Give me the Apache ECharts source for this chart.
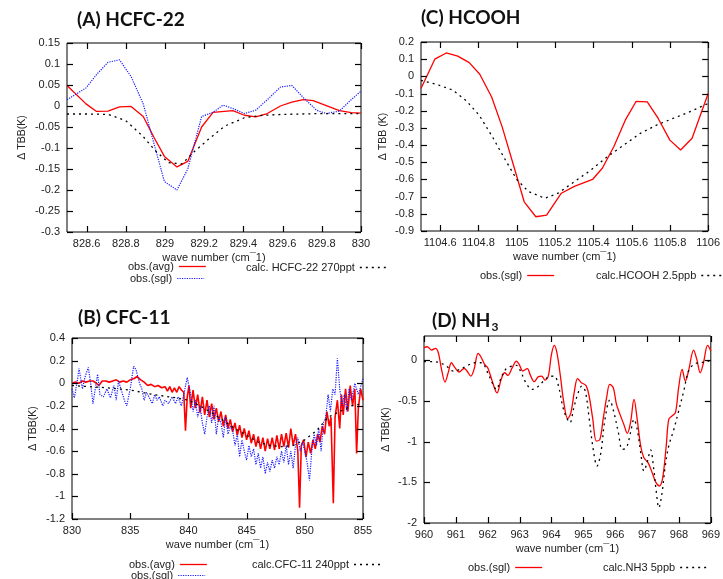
<!DOCTYPE html>
<html>
<head>
<meta charset="utf-8">
<script src="https://cdn.jsdelivr.net/npm/echarts@6/dist/echarts.min.js"></script>
<style>
  html, body { margin: 0; padding: 0; background: #fff; }
  #chart { width: 723px; height: 579px; }
</style>
</head>
<body>
<div id="chart"></div>
<script>
'use strict';

// (A) HCFC-22
const hcfcAvg = [[828.5,0.049],[828.597,0.005],[828.651,-0.013],[828.709,-0.012],[828.768,-0.002],[828.827,-0.001],[828.889,-0.025],[828.944,-0.075],[828.997,-0.12],[829.061,-0.145],[829.116,-0.132],[829.187,-0.05],[829.245,-0.015],[829.346,-0.011],[829.405,-0.022],[829.463,-0.026],[829.522,-0.018],[829.589,0.0],[829.647,0.009],[829.706,0.015],[829.756,0.013],[829.823,0.001],[829.89,-0.011],[829.95,-0.016],[830,-0.017]];
const hcfcSgl = [[828.5,0.015],[828.597,0.043],[828.651,0.075],[828.709,0.104],[828.768,0.11],[828.827,0.07],[828.889,0.005],[828.944,-0.09],[828.997,-0.18],[829.061,-0.2],[829.116,-0.15],[829.187,-0.025],[829.245,-0.015],[829.296,0.002],[829.346,-0.006],[829.405,-0.018],[829.463,-0.01],[829.522,0.015],[829.589,0.045],[829.647,0.049],[829.706,0.02],[829.773,-0.01],[829.823,-0.018],[829.89,-0.012],[829.95,0.015],[830,0.035]];
const hcfcCalc = [[828.5,-0.019],[828.6,-0.019],[828.71,-0.02],[828.8,-0.035],[828.885,-0.071],[828.952,-0.107],[829.019,-0.135],[829.086,-0.138],[829.153,-0.107],[829.22,-0.08],[829.304,-0.048],[829.405,-0.028],[829.505,-0.022],[829.6,-0.02],[829.8,-0.018],[830,-0.018]];

// (B) CFC-11
const cfcAvg = [[830.0,0.00],[830.3,0.01],[830.6,0.00],[830.9,0.02],[831.2,0.01],[831.5,0.02],[831.8,0.02],[832.1,0.00],[832.3,-0.02],[832.6,0.02],[832.9,0.02],[833.2,0.01],[833.5,0.02],[833.8,0.03],[834.1,0.01],[834.4,0.02],[834.7,0.01],[835.0,0.03],[835.3,0.04],[835.6,0.06],[835.9,0.03],[836.2,0.01],[836.5,-0.02],[836.8,-0.01],[837.1,-0.03],[837.4,-0.02],[837.7,-0.04],[838.0,-0.03],[838.2,-0.07],[838.4,-0.03],[838.6,-0.08],[838.8,-0.04],[839.0,-0.08],[839.2,-0.03],[839.4,-0.06],[839.6,-0.08],[839.75,-0.42],[839.9,-0.12],[840.05,-0.02],[840.2,-0.22],[840.4,-0.06],[840.6,-0.22],[840.8,-0.10],[841.0,-0.26],[841.2,-0.12],[841.4,-0.28],[841.6,-0.15],[841.8,-0.30],[842.0,-0.18],[842.2,-0.32],[842.4,-0.22],[842.6,-0.34],[842.8,-0.25],[843.0,-0.38],[843.2,-0.28],[843.4,-0.40],[843.6,-0.32],[843.8,-0.43],[844.0,-0.35],[844.2,-0.46],[844.4,-0.37],[844.6,-0.48],[844.8,-0.40],[845.0,-0.50],[845.2,-0.42],[845.4,-0.53],[845.6,-0.45],[845.8,-0.56],[846.0,-0.47],[846.2,-0.58],[846.4,-0.48],[846.6,-0.60],[846.8,-0.49],[847.0,-0.58],[847.2,-0.48],[847.4,-0.59],[847.6,-0.46],[847.8,-0.58],[848.0,-0.45],[848.2,-0.56],[848.4,-0.44],[848.6,-0.57],[848.8,-0.40],[849.0,-0.55],[849.2,-0.45],[849.4,-0.60],[849.55,-1.10],[849.7,-0.55],[849.9,-0.50],[850.1,-0.65],[850.3,-0.52],[850.5,-0.62],[850.7,-0.50],[850.9,-0.58],[851.1,-0.45],[851.3,-0.52],[851.5,-0.38],[851.7,-0.45],[851.9,-0.25],[852.1,-0.38],[852.25,-0.30],[852.45,-1.06],[852.6,-0.30],[852.8,-0.15],[853.0,-0.40],[853.15,-0.10],[853.3,-0.28],[853.5,-0.05],[853.7,-0.25],[853.9,-0.02],[854.1,-0.20],[854.3,-0.05],[854.45,-0.62],[854.6,-0.22],[854.8,-0.05],[855.0,-0.15]];
const cfcSgl = [[830.0,-0.05],[830.2,-0.13],[830.5,0.05],[830.6,0.13],[830.9,-0.05],[831.1,0.05],[831.4,0.14],[831.6,0.0],[831.8,-0.18],[832.0,-0.05],[832.2,0.08],[832.4,-0.1],[832.7,-0.12],[833.0,-0.05],[833.3,-0.13],[833.6,-0.02],[833.8,-0.15],[834.0,0.02],[834.2,-0.05],[834.5,-0.15],[834.7,-0.2],[835.0,-0.05],[835.3,0.15],[835.5,0.12],[835.8,0.0],[836.0,-0.05],[836.2,-0.15],[836.4,-0.08],[836.6,-0.12],[836.9,-0.18],[837.1,-0.1],[837.3,-0.15],[837.5,-0.12],[837.8,-0.2],[838.0,-0.15],[838.3,-0.18],[838.6,-0.12],[838.9,-0.18],[839.1,-0.12],[839.4,-0.2],[839.7,-0.05],[839.9,0.05],[840.0,0.06],[840.2,-0.1],[840.4,-0.25],[840.6,-0.15],[840.8,-0.3],[841.0,-0.2],[841.2,-0.35],[841.4,-0.45],[841.6,-0.3],[841.8,-0.2],[842.0,-0.35],[842.2,-0.2],[842.4,-0.45],[842.6,-0.3],[842.8,-0.35],[843.0,-0.48],[843.2,-0.3],[843.4,-0.45],[843.6,-0.38],[843.8,-0.42],[844.0,-0.55],[844.2,-0.45],[844.4,-0.65],[844.6,-0.5],[844.8,-0.6],[845.0,-0.68],[845.2,-0.55],[845.4,-0.65],[845.6,-0.58],[845.8,-0.72],[846.0,-0.62],[846.2,-0.75],[846.4,-0.65],[846.6,-0.8],[846.8,-0.7],[847.0,-0.78],[847.2,-0.68],[847.4,-0.75],[847.6,-0.65],[847.8,-0.72],[848.0,-0.6],[848.2,-0.7],[848.4,-0.55],[848.6,-0.72],[848.8,-0.6],[849.0,-0.75],[849.2,-0.55],[849.4,-0.48],[849.6,-0.6],[849.8,-0.52],[850.0,-0.6],[850.2,-0.7],[850.4,-0.86],[850.6,-0.6],[850.8,-0.45],[851.0,-0.55],[851.2,-0.4],[851.4,-0.6],[851.6,-0.35],[851.8,-0.3],[852.0,-0.1],[852.2,-0.25],[852.4,-0.05],[852.6,-0.1],[852.8,0.22],[853.0,-0.05],[853.2,-0.2],[853.4,-0.1],[853.6,-0.25],[853.8,-0.05],[854.0,-0.15],[854.3,0.0],[854.6,-0.1],[855.0,0.04]];
const cfcCalc = [[830,-0.02],[833,-0.04],[835,-0.06],[837,-0.1],[839,-0.13],[840,-0.15],[841,-0.2],[842,-0.26],[843,-0.33],[844,-0.4],[845,-0.46],[846,-0.52],[847,-0.55],[848,-0.56],[849,-0.55],[850,-0.5],[851,-0.42],[852,-0.3],[853,-0.25],[854,-0.2],[855,-0.18]];

// (C) HCOOH
const hcoohObs = [[1104.5,-0.071],[1104.572,0.10],[1104.632,0.136],[1104.692,0.118],[1104.752,0.08],[1104.807,0.012],[1104.869,-0.12],[1104.924,-0.294],[1104.984,-0.52],[1105.039,-0.73],[1105.1,-0.817],[1105.156,-0.807],[1105.233,-0.68],[1105.301,-0.64],[1105.396,-0.6],[1105.447,-0.535],[1105.507,-0.41],[1105.567,-0.255],[1105.624,-0.145],[1105.682,-0.149],[1105.739,-0.245],[1105.8,-0.371],[1105.856,-0.429],[1105.916,-0.36],[1106,-0.1]];
const hcoohCalc = [[1104.5,-0.023],[1104.58,-0.046],[1104.666,-0.08],[1104.735,-0.14],[1104.804,-0.226],[1104.872,-0.35],[1104.941,-0.487],[1105.0,-0.6],[1105.061,-0.67],[1105.147,-0.71],[1105.216,-0.68],[1105.301,-0.613],[1105.387,-0.546],[1105.473,-0.468],[1105.559,-0.4],[1105.645,-0.332],[1105.73,-0.284],[1105.816,-0.245],[1105.902,-0.207],[1106,-0.158]];

// (D) NH3
const nh3Obs = [[960.0,0.156],[960.1,0.168],[960.24,0.127],[960.36,0.148],[960.45,0.094],[960.55,-0.11],[960.66,-0.266],[960.76,-0.15],[960.86,-0.029],[960.97,-0.09],[961.1,-0.143],[961.26,-0.098],[961.35,-0.131],[961.47,-0.193],[961.57,-0.11],[961.7,0.086],[961.8,0.033],[961.9,-0.049],[962.0,-0.09],[962.14,-0.254],[962.29,-0.4],[962.42,-0.236],[962.53,-0.152],[962.63,-0.184],[962.77,-0.09],[962.9,-0.008],[963.0,-0.061],[963.1,-0.131],[963.24,-0.102],[963.34,-0.184],[963.46,-0.262],[963.59,-0.2],[963.69,-0.193],[963.8,-0.242],[963.9,-0.193],[964.0,0.074],[964.09,0.184],[964.17,0.094],[964.28,-0.193],[964.38,-0.5],[964.51,-0.717],[964.61,-0.643],[964.72,-0.377],[964.82,-0.225],[964.94,-0.275],[965.08,-0.307],[965.18,-0.438],[965.29,-0.705],[965.41,-0.992],[965.52,-0.971],[965.62,-0.725],[965.73,-0.459],[965.83,-0.295],[965.94,-0.336],[966.04,-0.541],[966.15,-0.664],[966.27,-0.787],[966.38,-0.898],[966.48,-0.766],[966.59,-0.479],[966.69,-0.725],[966.8,-1.053],[966.9,-1.197],[967.03,-1.258],[967.16,-1.381],[967.28,-1.504],[967.39,-1.545],[967.49,-1.443],[967.6,-1.053],[967.68,-0.725],[967.78,-0.684],[967.89,-0.643],[967.99,-0.336],[968.1,-0.111],[968.2,-0.254],[968.3,-0.131],[968.46,0.127],[968.56,0.012],[968.67,-0.152],[968.77,-0.029],[968.9,0.184],[969.0,0.115]];
const nh3Calc = [[960.0,-0.016],[960.29,-0.016],[960.5,-0.029],[960.7,-0.07],[960.92,-0.131],[961.12,-0.111],[961.33,-0.07],[961.59,-0.029],[961.8,-0.029],[962.0,-0.152],[962.14,-0.275],[962.27,-0.357],[962.42,-0.213],[962.56,-0.111],[962.7,-0.078],[962.9,-0.061],[963.05,-0.152],[963.2,-0.275],[963.39,-0.357],[963.57,-0.324],[963.75,-0.254],[963.93,-0.2],[964.09,-0.193],[964.22,-0.316],[964.35,-0.561],[964.45,-0.684],[964.58,-0.766],[964.69,-0.602],[964.82,-0.418],[964.95,-0.316],[965.06,-0.377],[965.18,-0.705],[965.31,-1.094],[965.43,-1.299],[965.55,-1.135],[965.67,-0.746],[965.83,-0.488],[965.96,-0.643],[966.1,-0.889],[966.22,-1.094],[966.35,-1.074],[966.48,-0.889],[966.59,-0.725],[966.69,-0.848],[966.8,-1.135],[966.9,-1.36],[967.0,-1.258],[967.11,-1.102],[967.21,-1.34],[967.28,-1.586],[967.37,-1.811],[967.47,-1.627],[967.57,-1.299],[967.68,-1.053],[967.84,-0.848],[967.99,-0.623],[968.15,-0.377],[968.3,-0.131],[968.46,-0.049],[968.62,-0.029],[968.82,-0.02],[969.0,0.004]];

// tick labels
const ticksAx = [828.6, 828.8, 829, 829.2, 829.4, 829.6, 829.8, 830];
const ticksAy = [-0.3, -0.25, -0.2, -0.15, -0.1, -0.05, 0, 0.05, 0.1, 0.15];
const ticksBx = [830, 835, 840, 845, 850, 855];
const ticksBy = [-1.2, -1, -0.8, -0.6, -0.4, -0.2, 0, 0.2, 0.4];
const ticksCx = [1104.6, 1104.8, 1105, 1105.2, 1105.4, 1105.6, 1105.8, 1106];
const ticksCy = [-0.9, -0.8, -0.7, -0.6, -0.5, -0.4, -0.3, -0.2, -0.1, 0, 0.1, 0.2];
const ticksDx = [960, 961, 962, 963, 964, 965, 966, 967, 968, 969];
const ticksDy = [-2, -1.5, -1, -0.5, 0];

const RED = '#ff0000', BLUE = '#1a1aff', BLACK = '#000';
const FONT = 'Liberation Sans';
const XNAME = 'wave number (cm\u00AF1)';
const TICK_LEN = 6;

// panel layout: grid box, axis ranges and names
const panels = [
    { grid: { left: 67, top: 43, width: 294, height: 189 }, x: [828.5, 830, ticksAx], y: [-0.3, 0.15, ticksAy], yName: '\u0394 TBB(K)', yGap: 39 },
    { grid: { left: 72, top: 338, width: 291, height: 181 }, x: [830, 855, ticksBx], y: [-1.2, 0.4, ticksBy], yName: '\u0394 TBB(K)', yGap: 33 },
    { grid: { left: 421, top: 42, width: 291, height: 189 }, x: [1104.5, 1106, ticksCx], y: [-0.9, 0.2, ticksCy], yName: '\u0394 TBB (K)', yGap: 32 },
    { grid: { left: 424, top: 336, width: 288, height: 187 }, x: [960, 969, ticksDx], y: [-2, 0.3, ticksDy], yName: '\u0394 TBB(K)', yGap: 32 }
];

const fmt = (v) => String(parseFloat(Number(v).toFixed(4)));

function makeAxes() {
    let xAxis = [], yAxis = [];
    panels.forEach(function (p, i) {
        xAxis.push({
            type: 'value', gridIndex: i, min: p.x[0], max: p.x[1],
            name: XNAME, nameLocation: 'middle', nameGap: 20,
            nameTextStyle: { fontFamily: FONT, fontSize: 11, color: '#222' },
            axisLine: { show: false, onZero: false }, axisTick: { show: false }, splitLine: { show: false },
            axisLabel: { customValues: p.x[2], formatter: fmt, margin: 6, fontFamily: FONT, fontSize: 11, color: '#222' }
        });
        yAxis.push({
            type: 'value', gridIndex: i, min: p.y[0], max: p.y[1],
            name: p.yName, nameLocation: 'middle', nameGap: p.yGap, nameRotate: 90,
            nameTextStyle: { fontFamily: FONT, fontSize: 10.5, color: '#222' },
            axisLine: { show: false, onZero: false }, axisTick: { show: false }, splitLine: { show: false },
            axisLabel: { customValues: p.y[2], formatter: fmt, margin: 7, fontFamily: FONT, fontSize: 11, color: '#222' }
        });
    });
    return { xAxis: xAxis, yAxis: yAxis };
}

// inward tick marks on all four sides (gnuplot mirror ticks), placed via api.coord
function tickSeries(i) {
    const p = panels[i];
    const seg = (x1, y1, x2, y2) => ({ type: 'line', shape: { x1: x1, y1: y1, x2: x2, y2: y2 }, style: { stroke: BLACK, lineWidth: 1.2 } });
    return [{
        type: 'custom', xAxisIndex: i, yAxisIndex: i, silent: true, animation: false, z: 5,
        data: p.x[2].map((v) => [v, p.y[0]]),
        renderItem: function (params, api) {
            const cs = params.coordSys;
            const px = Math.round(api.coord([api.value(0), api.value(1)])[0]) + 0.5;
            const bottom = cs.y + cs.height;
            return { type: 'group', children: [seg(px, bottom, px, bottom - TICK_LEN), seg(px, cs.y, px, cs.y + TICK_LEN)] };
        }
    }, {
        type: 'custom', xAxisIndex: i, yAxisIndex: i, silent: true, animation: false, z: 5,
        data: p.y[2].map((v) => [p.x[0], v]),
        renderItem: function (params, api) {
            const cs = params.coordSys;
            const py = Math.round(api.coord([api.value(0), api.value(1)])[1]) + 0.5;
            const right = cs.x + cs.width;
            return { type: 'group', children: [seg(cs.x, py, cs.x + TICK_LEN, py), seg(right, py, right - TICK_LEN, py)] };
        }
    }];
}

const STYLES = {
    avg: { color: RED, type: 'solid', width: 1.3 },
    sgl: { color: BLUE, type: 'dotted', width: 1.2 },
    red: { color: RED, type: 'solid', width: 1.3 },
    calc: { color: BLACK, type: [2, 4], width: 1.3 }
};

function line(name, data, idx, style, extra) {
    return Object.assign({
        name: name, type: 'line', data: data, xAxisIndex: idx, yAxisIndex: idx,
        symbol: 'none', lineStyle: style, itemStyle: { color: style.color },
        animation: false
    }, extra || {});
}

function legendItem(name, style) {
    return { name: name, lineStyle: style, itemStyle: { color: style.color, opacity: 0 } };
}

function legend(left, top, item) {
    return {
        left: left, top: top, orient: 'horizontal', align: 'right', padding: 0,
        itemWidth: 27, itemHeight: 8, selectedMode: false,
        textStyle: { fontFamily: FONT, fontSize: 11, color: '#222' },
        data: [item]
    };
}

const titleStyle = { fontFamily: 'Lato', fontWeight: 'bold', fontSize: 19, color: '#111' };
const titles = [
    { text: '(A) HCFC-22', left: 77, top: 10 },
    { text: '(C) HCOOH', left: 421, top: 8 },
    { text: '(B) CFC-11', left: 78, top: 308 },
    { text: '(D) NH{sub|3}', left: 432, top: 309 }
];

const axes = makeAxes();
const chart = echarts.init(document.getElementById('chart'), null, { renderer: 'canvas' });
chart.setOption({
    backgroundColor: '#fff',
    animation: false,
    title: titles.map(function (t) {
        return {
            text: t.text, left: t.left, top: t.top, padding: 0,
            textStyle: Object.assign({}, titleStyle, {
                rich: { sub: { fontFamily: 'Lato', fontWeight: 'bold', fontSize: 12, color: '#111', verticalAlign: 'bottom', padding: [12, 0, 0, 1] } }
            })
        };
    }),
    grid: panels.map(function (p) {
        return Object.assign({ show: true, borderColor: BLACK, borderWidth: 1, backgroundColor: 'transparent' }, p.grid);
    }),
    xAxis: axes.xAxis,
    yAxis: axes.yAxis,
    legend: [
        legend(128, 261, legendItem('obs.(avg)', STYLES.avg)),
        legend(130, 273, legendItem('obs.(sgl)', STYLES.sgl)),
        legend(246, 262, legendItem('calc. HCFC-22 270ppt', STYLES.calc)),
        legend(480, 270, legendItem('obs.(sgl)', STYLES.red)),
        legend(596, 270, legendItem('calc.HCOOH 2.5ppb', STYLES.calc)),
        legend(129, 559, legendItem('obs.(avg)', STYLES.avg)),
        legend(131, 570, legendItem('obs.(sgl)', STYLES.sgl)),
        legend(252, 559, legendItem('calc.CFC-11 240ppt', STYLES.calc)),
        legend(468, 562, legendItem('obs.(sgl)', STYLES.red)),
        legend(603, 562, legendItem('calc.NH3 5ppb', STYLES.calc))
    ],
    series: [
        line('obs.(avg)', hcfcAvg, 0, STYLES.avg),
        line('obs.(sgl)', hcfcSgl, 0, STYLES.sgl),
        line('calc. HCFC-22 270ppt', hcfcCalc, 0, STYLES.calc),
        line('obs.(avg)', cfcAvg, 1, Object.assign({}, STYLES.avg, { width: 1.6 })),
        line('obs.(sgl)', cfcSgl, 1, STYLES.sgl),
        line('calc.CFC-11 240ppt', cfcCalc, 1, STYLES.calc),
        line('obs.(sgl)', hcoohObs, 2, STYLES.red),
        line('calc.HCOOH 2.5ppb', hcoohCalc, 2, STYLES.calc),
        line('obs.(sgl)', nh3Obs, 3, STYLES.red, { smooth: 0.35 }),
        line('calc.NH3 5ppb', nh3Calc, 3, STYLES.calc, { smooth: 0.35 })
    ].concat(tickSeries(0), tickSeries(1), tickSeries(2), tickSeries(3))
});
</script>
</body>
</html>
